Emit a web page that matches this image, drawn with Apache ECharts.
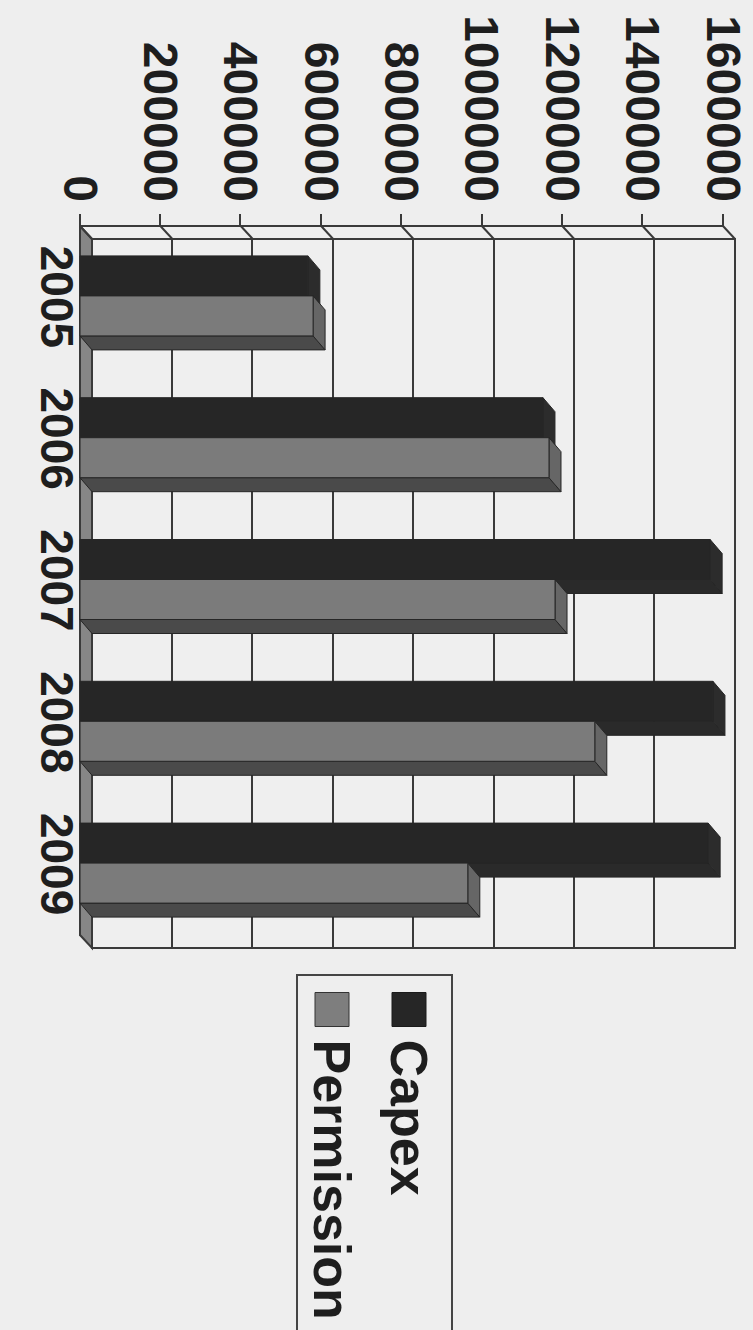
<!DOCTYPE html>
<html><head><meta charset="utf-8">
<script src="https://cdn.jsdelivr.net/npm/echarts@6/dist/echarts.min.js"></script>
<style>
html,body{margin:0;padding:0;width:753px;height:1330px;overflow:hidden;background:#eeeeee;}
#wrap{position:absolute;left:0;top:0;width:1330px;height:753px;transform-origin:0 0;transform:translate(753px,0) rotate(90deg);}
#chart{width:1330px;height:753px;}
</style></head><body>
<div id="wrap"><div id="chart"></div></div>
<script>
// ---- data ----
const categories = ['2005', '2006', '2007', '2008', '2009'];
const capex = [567000, 1152000, 1568000, 1575000, 1563000];
const permission = [580000, 1167000, 1182000, 1281000, 965000];
const valueTicks = [0, 200000, 400000, 600000, 800000, 1000000, 1200000, 1400000, 1600000];
const seriesNames = ['Capex', 'Permission'];

// ---- style ----
const DU = 13, DV = 12;      // wall depth offset
const BDU = 14, BDV = 12;    // bar depth offset
const BW = 40;
const FONT = '"Liberation Sans", Arial, sans-serif';
const TXT = '#1e1e1e', LINE = '#3a3a3a', BG = '#eeeeee';

const chart = echarts.init(document.getElementById('chart'), null, {renderer: 'svg', width: 1330, height: 753});

function barSeries(name, values, off, colors, z) {
  return {
    type: 'custom', name: name, xAxisIndex: 0, yAxisIndex: 0, z: z,
    data: values.map((v, i) => [i, v]),
    itemStyle: {color: colors.front},
    renderItem: function (params, api) {
      const p = api.coord([api.value(0), api.value(1)]);
      const b = api.coord([api.value(0), 0]);
      const x0 = p[0] + off, x1 = x0 + BW, top = p[1], bot = b[1];
      const st = (f) => ({fill: f, stroke: '#262626', lineWidth: 1});
      return {type: 'group', children: [
        {type: 'polygon', shape: {points: [[x1, top], [x1 + BDU, top - BDV], [x1 + BDU, bot - BDV], [x1, bot]]}, style: st(colors.side)},
        {type: 'polygon', shape: {points: [[x0, top], [x0 + BDU, top - BDV], [x1 + BDU, top - BDV], [x1, top]]}, style: st(colors.top)},
        {type: 'rect', shape: {x: x0, y: top, width: BW, height: bot - top}, style: st(colors.front)}
      ]};
    }
  };
}

const option = {
  backgroundColor: BG,
  animation: false,
  grid: [
    {left: 226, top: 30, width: 709, height: 643, containLabel: false, outerBoundsMode: 'none'},
    {left: 239, top: 18, width: 709, height: 643, containLabel: false, outerBoundsMode: 'none',
      show: true, borderColor: LINE, borderWidth: 2, backgroundColor: '#efefef'}
  ],
  xAxis: [
    {type: 'category', gridIndex: 0, data: categories,
      axisLine: {lineStyle: {color: LINE, width: 2}},
      axisTick: {length: 12, lineStyle: {color: LINE, width: 2}},
      axisLabel: {fontSize: 46, fontWeight: 'bold', color: TXT, fontFamily: FONT, margin: 0, interval: 0},
      splitLine: {show: false}},
    {type: 'category', gridIndex: 1, data: categories, show: false}
  ],
  yAxis: [
    {type: 'value', gridIndex: 0, min: 0, max: 1600000, interval: 200000,
      axisLine: {show: true, lineStyle: {color: LINE, width: 2}},
      axisTick: {show: true, length: 12, lineStyle: {color: LINE, width: 2}},
      axisLabel: {fontSize: 48, fontWeight: 'bold', color: TXT, fontFamily: FONT, margin: 24,
        formatter: function (v) { return String(v); }},
      splitLine: {show: false}},
    {type: 'value', gridIndex: 1, min: 0, max: 1600000, interval: 200000,
      axisLine: {show: false}, axisTick: {show: false}, axisLabel: {show: false},
      splitLine: {show: true, lineStyle: {color: LINE, width: 2}}}
  ],
  legend: {
    data: [
      {name: seriesNames[0], itemStyle: {color: '#262626', borderColor: '#1a1a1a', borderWidth: 1}},
      {name: seriesNames[1], itemStyle: {color: '#7e7e7e', borderColor: '#333', borderWidth: 1}}
    ],
    orient: 'vertical', left: 975, top: 301, icon: 'rect',
    itemWidth: 34, itemHeight: 34, itemGap: 25,
    padding: [17, 20, 9, 17],
    borderColor: '#444', borderWidth: 2, backgroundColor: BG,
    textStyle: {fontSize: 52, fontWeight: 'bold', color: TXT, fontFamily: FONT, lineHeight: 52, padding: [0, 0, 0, 8]}
  },
  series: [
    {
      type: 'custom', xAxisIndex: 0, yAxisIndex: 0, z: 1, silent: true,
      data: [[0, 0]],
      renderItem: function (params, api) {
        const half = api.size([1, 0])[0] / 2;
        const a = api.coord([0, 0]);
        const b = api.coord([categories.length - 1, 0]);
        const x0 = a[0] - half, x1 = b[0] + half, y0 = a[1];
        const children = [
          {type: 'polygon', shape: {points: [[x0, y0], [x1, y0], [x1 + DU, y0 - DV], [x0 + DU, y0 - DV]]},
            style: {fill: '#868686', stroke: LINE, lineWidth: 2}}
        ];
        valueTicks.forEach(function (v) {
          const p = api.coord([0, v]);
          children.push({type: 'line', shape: {x1: x0, y1: p[1], x2: x0 + DU, y2: p[1] - DV},
            style: {stroke: LINE, lineWidth: 2}});
        });
        return {type: 'group', children: children};
      }
    },
    barSeries(seriesNames[0], capex, -41, {front: '#262626', top: '#2c2c2c', side: '#2a2a2a'}, 2),
    barSeries(seriesNames[1], permission, -1, {front: '#7b7b7b', top: '#666666', side: '#4a4a4a'}, 3)
  ]
};
chart.setOption(option);
</script>
</body></html>
